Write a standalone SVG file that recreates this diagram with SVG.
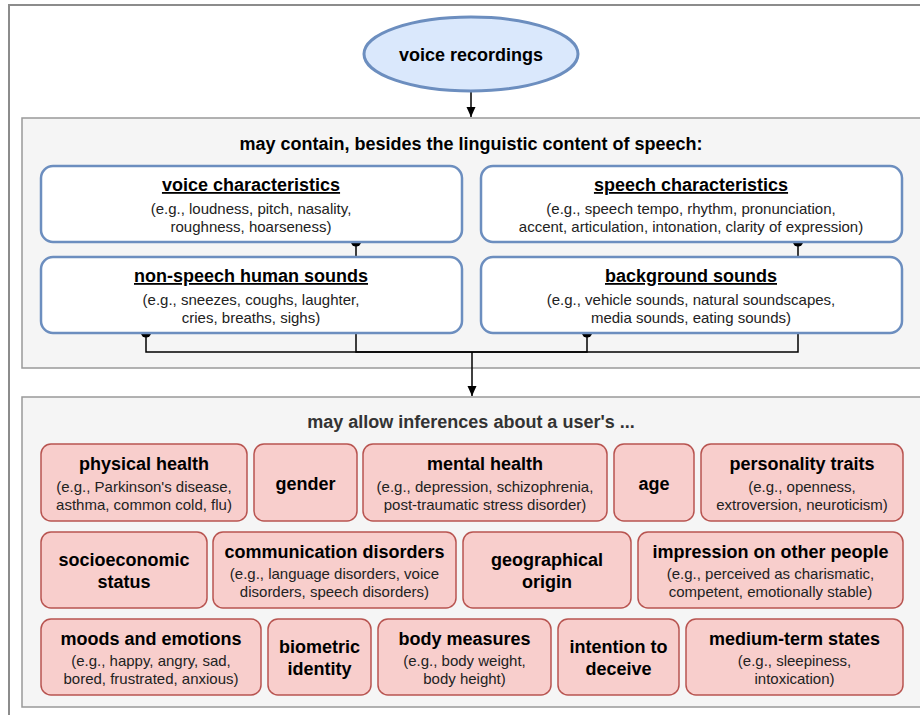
<svg xmlns="http://www.w3.org/2000/svg" width="920" height="715" viewBox="0 0 920 715">
<defs>
<style>
text{font-family:"Liberation Sans",Arial,Helvetica,sans-serif;fill:#000;text-anchor:middle}
.t{font-size:18px;font-weight:bold}
.u{text-decoration:underline}
.s{font-size:15px;fill:#222}
.gray{fill:#f5f5f5;stroke:#999;stroke-width:1.5}
.blue{fill:#fff;stroke:#6c8ebf;stroke-width:2.5}
.red{fill:#f8cecc;stroke:#b85450;stroke-width:1.5}
.c{fill:none;stroke:#000;stroke-width:1.5}
</style>
<marker id="half" markerUnits="userSpaceOnUse" markerWidth="12" markerHeight="12" refX="0" refY="0" viewBox="-1 -6 8 12" orient="auto">
<path d="M0,-5 A4.5,5 0 0 1 0,5 Z" fill="#000"/>
</marker>
<marker id="arr" markerUnits="userSpaceOnUse" markerWidth="12" markerHeight="12" refX="10" refY="0" viewBox="0 -6 12 12" orient="auto">
<path d="M0,-4.5 L10,0 L0,4.5 Z" fill="#000"/>
</marker>
</defs>
<rect x="0" y="0" width="920" height="715" fill="#fff"/>
<rect x="9" y="5" width="930" height="730" fill="#fff" stroke="#8c8c8c" stroke-width="2"/>
<g id="container-contain">
<rect class="gray" x="22" y="118" width="920" height="250"/>
<text class="t" x="471" y="150">may contain, besides the linguistic content of speech:</text>
</g>
<g id="container-inferences">
<rect class="gray" x="22" y="397" width="920" height="310"/>
<text class="t" x="471" y="428" style="fill:#333">may allow inferences about a user's ...</text>
</g>
<g id="connectors">
<path class="c" d="M471,91 V117" marker-end="url(#arr)"/>
<path class="c" d="M356,242 V352 H472" marker-start="url(#half)"/>
<path class="c" d="M146,333 V352 H472" marker-start="url(#half)"/>
<path class="c" d="M587,333 V352 H472" marker-start="url(#half)"/>
<path class="c" d="M798,242 V352 H472" marker-start="url(#half)"/>
<path class="c" d="M472,352 V396" marker-end="url(#arr)"/>
</g>
<g id="voice-recordings">
<ellipse cx="471" cy="54" rx="107" ry="37" fill="#dae8fc" stroke="#6c8ebf" stroke-width="3"/>
<text class="t" x="471" y="61">voice recordings</text>
</g>
<g id="voice-characteristics">
<rect class="blue" x="41" y="166" width="421" height="76" rx="12"/>
<text class="t u" x="251" y="191">voice characteristics</text>
<text class="s" x="251" y="214">(e.g., loudness, pitch, nasality,</text>
<text class="s" x="251" y="232">roughness, hoarseness)</text>
</g>
<g id="speech-characteristics">
<rect class="blue" x="481" y="166" width="421" height="76" rx="12"/>
<text class="t u" x="691" y="191">speech characteristics</text>
<text class="s" x="691" y="214">(e.g., speech tempo, rhythm, pronunciation,</text>
<text class="s" x="691" y="232">accent, articulation, intonation, clarity of expression)</text>
</g>
<g id="non-speech-human-sounds">
<rect class="blue" x="41" y="257" width="421" height="76" rx="12"/>
<text class="t u" x="251" y="282">non-speech human sounds</text>
<text class="s" x="251" y="305">(e.g., sneezes, coughs, laughter,</text>
<text class="s" x="251" y="323">cries, breaths, sighs)</text>
</g>
<g id="background-sounds">
<rect class="blue" x="481" y="257" width="421" height="76" rx="12"/>
<text class="t u" x="691" y="282">background sounds</text>
<text class="s" x="691" y="305">(e.g., vehicle sounds, natural soundscapes,</text>
<text class="s" x="691" y="323">media sounds, eating sounds)</text>
</g>
<g id="physical-health">
<rect class="red" x="41" y="444" width="206" height="77" rx="10"/>
<text class="t" x="144" y="470">physical health</text>
<text class="s" x="144" y="492">(e.g., Parkinson's disease,</text>
<text class="s" x="144" y="510">asthma, common cold, flu)</text>
</g>
<g id="gender">
<rect class="red" x="254" y="444" width="103" height="77" rx="10"/>
<text class="t" x="305.5" y="490">gender</text>
</g>
<g id="mental-health">
<rect class="red" x="363" y="444" width="244" height="77" rx="10"/>
<text class="t" x="485" y="470">mental health</text>
<text class="s" x="485" y="492">(e.g., depression, schizophrenia,</text>
<text class="s" x="485" y="510">post-traumatic stress disorder)</text>
</g>
<g id="age">
<rect class="red" x="614" y="444" width="80" height="77" rx="10"/>
<text class="t" x="654" y="490">age</text>
</g>
<g id="personality-traits">
<rect class="red" x="701" y="444" width="202" height="77" rx="10"/>
<text class="t" x="802" y="470">personality traits</text>
<text class="s" x="802" y="492">(e.g., openness,</text>
<text class="s" x="802" y="510">extroversion, neuroticism)</text>
</g>
<g id="socioeconomic-status">
<rect class="red" x="41" y="532" width="166" height="76" rx="10"/>
<text class="t" x="124" y="566">socioeconomic</text>
<text class="t" x="124" y="588">status</text>
</g>
<g id="communication-disorders">
<rect class="red" x="213" y="532" width="243" height="76" rx="10"/>
<text class="t" x="334.5" y="558">communication disorders</text>
<text class="s" x="334.5" y="579">(e.g., language disorders, voice</text>
<text class="s" x="334.5" y="597">disorders, speech disorders)</text>
</g>
<g id="geographical-origin">
<rect class="red" x="463" y="532" width="168" height="76" rx="10"/>
<text class="t" x="547" y="566">geographical</text>
<text class="t" x="547" y="588">origin</text>
</g>
<g id="impression-on-other-people">
<rect class="red" x="638" y="532" width="265" height="76" rx="10"/>
<text class="t" x="770.5" y="558">impression on other people</text>
<text class="s" x="770.5" y="579">(e.g., perceived as charismatic,</text>
<text class="s" x="770.5" y="597">competent, emotionally stable)</text>
</g>
<g id="moods-and-emotions">
<rect class="red" x="41" y="619" width="220" height="76" rx="10"/>
<text class="t" x="151" y="645">moods and emotions</text>
<text class="s" x="151" y="666">(e.g., happy, angry, sad,</text>
<text class="s" x="151" y="684">bored, frustrated, anxious)</text>
</g>
<g id="biometric-identity">
<rect class="red" x="268" y="619" width="103" height="76" rx="10"/>
<text class="t" x="319.5" y="653">biometric</text>
<text class="t" x="319.5" y="675">identity</text>
</g>
<g id="body-measures">
<rect class="red" x="378" y="619" width="173" height="76" rx="10"/>
<text class="t" x="464.5" y="645">body measures</text>
<text class="s" x="464.5" y="666">(e.g., body weight,</text>
<text class="s" x="464.5" y="684">body height)</text>
</g>
<g id="intention-to-deceive">
<rect class="red" x="558" y="619" width="121" height="76" rx="10"/>
<text class="t" x="618.5" y="653">intention to</text>
<text class="t" x="618.5" y="675">deceive</text>
</g>
<g id="medium-term-states">
<rect class="red" x="686" y="619" width="217" height="76" rx="10"/>
<text class="t" x="794.5" y="645">medium-term states</text>
<text class="s" x="794.5" y="666">(e.g., sleepiness,</text>
<text class="s" x="794.5" y="684">intoxication)</text>
</g>
</svg>
